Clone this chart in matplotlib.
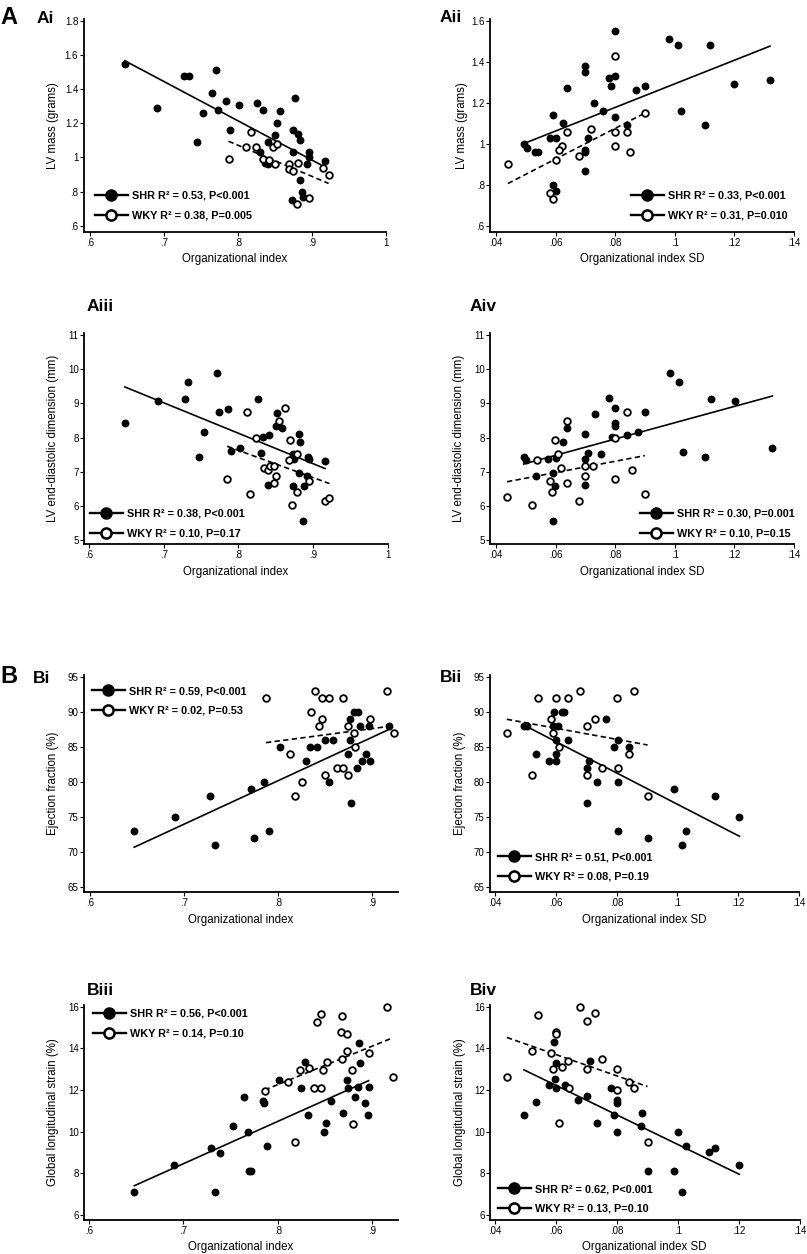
import numpy as np
import matplotlib
matplotlib.use("Agg")
import matplotlib.pyplot as plt
from matplotlib.lines import Line2D

plt.rcParams['font.family'] = ['Liberation Sans', 'DejaVu Sans']

# ---------------- data ----------------
ai_shr_x = [0.647, 0.691, 0.727, 0.733, 0.770, 0.765, 0.753, 0.745, 0.773, 0.784, 0.801, 0.789, 0.825, 0.833, 0.856, 0.876, 0.852, 0.849, 0.840, 0.829, 0.836, 0.840, 0.874, 0.881, 0.883, 0.874, 0.896, 0.895, 0.893, 0.917, 0.883, 0.886, 0.888, 0.872]
ai_shr_y = [1.55, 1.29, 1.48, 1.48, 1.51, 1.38, 1.26, 1.09, 1.28, 1.33, 1.31, 1.16, 1.32, 1.28, 1.27, 1.35, 1.20, 1.13, 1.09, 1.03, 0.97, 0.96, 1.16, 1.14, 1.10, 1.03, 1.03, 1.00, 0.96, 0.98, 0.87, 0.80, 0.77, 0.75]
ai_wky_x = [0.817, 0.787, 0.811, 0.824, 0.833, 0.841, 0.847, 0.853, 0.849, 0.868, 0.868, 0.874, 0.881, 0.880, 0.896, 0.914, 0.922]
ai_wky_y = [1.15, 0.99, 1.06, 1.06, 0.99, 0.985, 1.06, 1.08, 0.96, 0.96, 0.93, 0.92, 0.97, 0.73, 0.76, 0.94, 0.90]

aii_shr_x = [0.080, 0.098, 0.101, 0.112, 0.120, 0.132, 0.070, 0.070, 0.078, 0.080, 0.0786, 0.064, 0.073, 0.076, 0.080, 0.087, 0.090, 0.102, 0.110, 0.059, 0.0625, 0.058, 0.060, 0.0495, 0.0503, 0.053, 0.054, 0.071, 0.070, 0.070, 0.070, 0.084, 0.059, 0.060]
aii_shr_y = [1.55, 1.51, 1.48, 1.48, 1.29, 1.31, 1.38, 1.35, 1.32, 1.33, 1.28, 1.27, 1.20, 1.16, 1.13, 1.26, 1.28, 1.16, 1.09, 1.14, 1.10, 1.03, 1.03, 1.00, 0.98, 0.96, 0.96, 1.03, 0.97, 0.96, 0.87, 1.09, 0.80, 0.77]
aii_wky_x = [0.044, 0.080, 0.090, 0.072, 0.064, 0.080, 0.084, 0.062, 0.061, 0.060, 0.068, 0.080, 0.085, 0.058, 0.059]
aii_wky_y = [0.90, 1.43, 1.15, 1.07, 1.06, 1.06, 1.06, 0.99, 0.97, 0.92, 0.94, 0.99, 0.96, 0.76, 0.73]

aiii_shr_x = [0.648, 0.692, 0.733, 0.728, 0.771, 0.754, 0.747, 0.774, 0.786, 0.790, 0.802, 0.827, 0.830, 0.833, 0.841, 0.852, 0.850, 0.858, 0.840, 0.881, 0.882, 0.873, 0.874, 0.893, 0.894, 0.916, 0.881, 0.892, 0.873, 0.888, 0.887]
aiii_shr_y = [8.42, 9.07, 9.64, 9.13, 9.88, 8.15, 7.44, 8.74, 8.84, 7.61, 7.70, 9.14, 7.54, 8.03, 8.08, 8.71, 8.35, 8.27, 6.61, 8.11, 7.88, 7.52, 7.37, 7.44, 7.37, 7.32, 6.95, 6.88, 6.59, 6.59, 5.57]
aiii_wky_x = [0.811, 0.863, 0.854, 0.824, 0.869, 0.879, 0.868, 0.834, 0.840, 0.843, 0.848, 0.850, 0.848, 0.785, 0.816, 0.894, 0.879, 0.872, 0.916, 0.922]
aiii_wky_y = [8.74, 8.86, 8.50, 7.98, 7.93, 7.52, 7.34, 7.12, 7.05, 7.18, 7.18, 6.88, 6.68, 6.78, 6.35, 6.74, 6.42, 6.02, 6.13, 6.24]

aiv_shr_x = [0.0493, 0.050, 0.0576, 0.060, 0.0533, 0.0592, 0.0598, 0.0592, 0.0626, 0.0637, 0.0699, 0.0732, 0.0779, 0.080, 0.080, 0.080, 0.0788, 0.0841, 0.0877, 0.090, 0.0753, 0.0708, 0.070, 0.070, 0.0985, 0.1013, 0.1122, 0.1202, 0.1027, 0.110, 0.1328]
aiv_shr_y = [7.44, 7.34, 7.37, 7.39, 6.88, 6.95, 6.58, 5.57, 7.88, 8.27, 8.11, 8.69, 9.15, 8.86, 8.44, 8.35, 8.03, 8.08, 8.15, 8.74, 7.52, 7.54, 7.37, 6.61, 9.88, 9.64, 9.13, 9.06, 7.59, 7.44, 7.70]
aiv_wky_x = [0.0437, 0.052, 0.0538, 0.0598, 0.0609, 0.0637, 0.0618, 0.0581, 0.0589, 0.0639, 0.0679, 0.070, 0.0724, 0.070, 0.080, 0.084, 0.0855, 0.080, 0.090]
aiv_wky_y = [6.25, 6.02, 7.34, 7.93, 7.52, 8.50, 7.12, 6.74, 6.42, 6.68, 6.14, 7.18, 7.18, 6.88, 7.98, 8.74, 7.05, 6.78, 6.35]

bi_shr_x = [0.647, 0.690, 0.728, 0.733, 0.771, 0.785, 0.774, 0.790, 0.802, 0.830, 0.834, 0.841, 0.850, 0.858, 0.854, 0.876, 0.876, 0.881, 0.885, 0.887, 0.896, 0.874, 0.893, 0.889, 0.898, 0.884, 0.877, 0.918]
bi_shr_y = [73, 75, 78, 71, 79, 80, 72, 73, 85, 83, 85, 85, 86, 86, 80, 86, 89, 90, 90, 88, 88, 84, 84, 83, 83, 82, 77, 88]
bi_wky_x = [0.787, 0.839, 0.847, 0.854, 0.869, 0.916, 0.8345, 0.847, 0.843, 0.8125, 0.825, 0.818, 0.850, 0.863, 0.869, 0.874, 0.882, 0.881, 0.874, 0.898, 0.923]
bi_wky_y = [92, 93, 92, 92, 92, 93, 90, 89, 88, 84, 80, 78, 81, 82, 82, 81, 85, 87, 88, 89, 87]

bii_shr_x = [0.0496, 0.0504, 0.0535, 0.0578, 0.0595, 0.0592, 0.0606, 0.0602, 0.060, 0.0602, 0.0620, 0.0628, 0.0639, 0.0709, 0.0701, 0.0734, 0.0701, 0.0765, 0.079, 0.0803, 0.0803, 0.0803, 0.0902, 0.0842, 0.0988, 0.1016, 0.1028, 0.1123, 0.1204]
bii_shr_y = [88, 88, 84, 83, 90, 88, 88, 86, 84, 83, 90, 90, 86, 83, 82, 80, 77, 89, 85, 86, 80, 73, 72, 85, 79, 71, 73, 78, 75]
bii_wky_x = [0.0439, 0.0522, 0.0584, 0.0591, 0.0612, 0.0701, 0.0728, 0.0701, 0.0751, 0.0803, 0.0842, 0.0902, 0.054, 0.060, 0.064, 0.068, 0.080, 0.0858]
bii_wky_y = [87, 81, 89, 87, 85, 88, 89, 81, 82, 82, 84, 78, 92, 92, 92, 93, 92, 93]

biii_shr_x = [0.648, 0.690, 0.729, 0.739, 0.733, 0.752, 0.764, 0.768, 0.769, 0.772, 0.784, 0.785, 0.788, 0.801, 0.829, 0.825, 0.832, 0.849, 0.851, 0.856, 0.869, 0.873, 0.874, 0.882, 0.885, 0.887, 0.886, 0.892, 0.895, 0.896]
biii_shr_y = [7.12, 8.40, 9.2, 8.99, 7.12, 10.29, 11.68, 10.0, 8.11, 8.11, 11.49, 11.39, 9.31, 12.48, 13.36, 12.08, 10.8, 10.0, 10.4, 11.49, 10.88, 12.48, 12.08, 11.68, 12.16, 13.28, 14.27, 11.39, 10.8, 12.16]
biii_wky_x = [0.786, 0.811, 0.823, 0.833, 0.838, 0.846, 0.848, 0.852, 0.868, 0.873, 0.879, 0.896, 0.818, 0.880, 0.841, 0.846, 0.868, 0.867, 0.873, 0.916, 0.922]
biii_wky_y = [11.97, 12.38, 12.96, 13.07, 12.08, 12.08, 12.96, 13.36, 13.47, 13.87, 12.96, 13.76, 9.49, 10.38, 15.25, 15.65, 15.55, 14.77, 14.67, 16.0, 12.6]

biv_shr_x = [0.0495, 0.0534, 0.0577, 0.0595, 0.0601, 0.0598, 0.0601, 0.0628, 0.0672, 0.0701, 0.071, 0.0735, 0.078, 0.079, 0.0801, 0.0801, 0.0801, 0.0881, 0.0878, 0.090, 0.0987, 0.1001, 0.1014, 0.1026, 0.110, 0.1121, 0.1201]
biv_shr_y = [10.80, 11.41, 12.22, 14.29, 13.29, 12.51, 12.09, 12.22, 11.51, 11.70, 13.39, 10.40, 12.10, 10.80, 11.51, 11.38, 10.0, 10.90, 10.29, 8.12, 8.12, 10.0, 7.12, 9.29, 9.0, 9.21, 8.41]
biv_wky_x = [0.0439, 0.0521, 0.054, 0.0582, 0.060, 0.060, 0.0591, 0.0621, 0.0638, 0.0641, 0.061, 0.0701, 0.0727, 0.068, 0.0701, 0.0751, 0.0801, 0.0801, 0.0839, 0.0857, 0.090]
biv_wky_y = [12.60, 13.89, 15.59, 13.79, 14.79, 14.69, 12.99, 13.1, 13.39, 12.09, 10.40, 15.29, 15.69, 16.0, 12.99, 13.5, 12.99, 11.99, 12.39, 12.09, 9.5]

oi_ticks = [0.6, 0.7, 0.8, 0.9, 1.0]
oi_ticks_b = [0.6, 0.7, 0.8, 0.9]
sd_ticks = [0.04, 0.06, 0.08, 0.10, 0.12, 0.14]
mass_ai_ticks = [0.6, 0.8, 1.0, 1.2, 1.4, 1.6, 1.8]
mass_aii_ticks = [0.6, 0.8, 1.0, 1.2, 1.4, 1.6]
lved_ticks = [5, 6, 7, 8, 9, 10, 11]
ef_ticks = [65, 70, 75, 80, 85, 90, 95]
gls_ticks = [6, 8, 10, 12, 14, 16]

xlab_oi = "Organizational index"
xlab_sd = "Organizational index SD"
ylab_mass = "LV mass (grams)"
ylab_lved = "LV end-diastolic dimension (mm)"
ylab_ef = "Ejection fraction (%)"
ylab_gls = "Global longitudinal strain (%)"

leg_ai = ["SHR R\u00b2 = 0.53, P<0.001", "WKY R\u00b2 = 0.38, P=0.005"]
leg_aii = ["SHR R\u00b2 = 0.33, P<0.001", "WKY R\u00b2 = 0.31, P=0.010"]
leg_aiii = ["SHR R\u00b2 = 0.38, P<0.001", "WKY R\u00b2 = 0.10, P=0.17"]
leg_aiv = ["SHR R\u00b2 = 0.30, P=0.001", "WKY R\u00b2 = 0.10, P=0.15"]
leg_bi = ["SHR R\u00b2 = 0.59, P<0.001", "WKY R\u00b2 = 0.02, P=0.53"]
leg_bii = ["SHR R\u00b2 = 0.51, P<0.001", "WKY R\u00b2 = 0.08, P=0.19"]
leg_biii = ["SHR R\u00b2 = 0.56, P<0.001", "WKY R\u00b2 = 0.14, P=0.10"]
leg_biv = ["SHR R\u00b2 = 0.62, P<0.001", "WKY R\u00b2 = 0.13, P=0.10"]

# ---------------- layout ----------------
W, H = 807, 1254
fig = plt.figure(figsize=(W / 100, H / 100), dpi=100)


def val_at(px, p0, v0, p1, v1):
    return v0 + (px - p0) * (v1 - v0) / (p1 - p0)


def fmt(v):
    s = f"{v:g}"
    if s.startswith("0."):
        s = s[1:]
    return s


def panel(box, xt, yt, xticks, yticks, shr, wky, xlabel, ylabel, xlab_pos, ylab_pos,
          legend, leg_pos, tag, tag_pos):
    left, right, top, bottom = box
    ax = fig.add_axes([left / W, 1 - bottom / H, (right - left) / W, (bottom - top) / H])
    ax.set_xlim(val_at(left, xt[1], xt[0], xt[3], xt[2]), val_at(right, xt[1], xt[0], xt[3], xt[2]))
    ax.set_ylim(val_at(bottom, yt[1], yt[0], yt[3], yt[2]), val_at(top, yt[1], yt[0], yt[3], yt[2]))
    for s in ("top", "right"):
        ax.spines[s].set_visible(False)
    for s in ("left", "bottom"):
        ax.spines[s].set_linewidth(1.3)
    ax.set_xticks(xticks)
    ax.set_xticklabels([fmt(v) for v in xticks])
    ax.set_yticks(yticks)
    ax.set_yticklabels([fmt(v) for v in yticks])
    ax.tick_params(axis="both", direction="out", length=2.6, width=0.8, labelsize=7.0, color="black")
    ax.tick_params(axis="y", pad=1.2)
    ax.tick_params(axis="x", pad=2.0)
    ax.patch.set_visible(False)

    (sx, sy), (wx, wy) = shr, wky
    ax.scatter(sx, sy, s=32, c="black", linewidths=0, zorder=3, clip_on=False)
    ax.scatter(wx, wy, s=23, facecolors="white", edgecolors="black", linewidths=1.3, zorder=4, clip_on=False)
    for (gx, gy, ls) in ((sx, sy, "-"), (wx, wy, (0, (3.2, 2.0)))):
        gx = np.asarray(gx); gy = np.asarray(gy)
        k, b = np.polyfit(gx, gy, 1)
        xx = np.array([gx.min(), gx.max()])
        ax.plot(xx, k * xx + b, color="black", lw=1.2, linestyle=ls, zorder=2)

    fig.text(xlab_pos[0] / W, 1 - xlab_pos[1] / H, xlabel, ha="center", va="center", fontsize=8.3)
    fig.text(ylab_pos[0] / W, 1 - ylab_pos[1] / H, ylabel, ha="center", va="center", fontsize=8.3, rotation=90)

    handles = [Line2D([], [], color="black", lw=1.7, marker="o", ms=8.0, mfc="black", mec="black"),
               Line2D([], [], color="black", lw=1.7, marker="o", ms=7.3, mfc="white", mec="black", mew=1.8)]
    ax.legend(handles, legend, loc="upper left", bbox_to_anchor=(leg_pos[0] / W, 1 - leg_pos[1] / H),
              bbox_transform=fig.transFigure, frameon=False, borderpad=0, borderaxespad=0,
              handlelength=3.0, handletextpad=0.45, labelspacing=0.9,
              prop={"weight": "bold", "size": 7.8})
    fig.text(tag_pos[0] / W, 1 - tag_pos[1] / H, tag, ha="left", va="baseline", fontsize=12.5, fontweight="bold")
    return ax


panel((83.5, 386.4, 19, 231.7), (0.6, 90, 0.9, 312.3), (1.8, 21, 0.6, 225.7), oi_ticks, mass_ai_ticks,
      (ai_shr_x, ai_shr_y), (ai_wky_x, ai_wky_y), xlab_oi, ylab_mass, (235, 259), (53, 126),
      leg_ai, (95, 191), "Ai", (37, 23))
panel((490, 794, 19, 231.7), (0.04, 496, 0.12, 734.3), (1.6, 20.6, 0.6, 226), sd_ticks, mass_aii_ticks,
      (aii_shr_x, aii_shr_y), (aii_wky_x, aii_wky_y), xlab_sd, ylab_mass, (642, 259), (462, 126),
      leg_aii, (631, 191), "Aii", (440, 22))
panel((84, 388, 333, 544), (0.6, 89, 0.9, 313), (11, 335.2, 5, 540), oi_ticks, lved_ticks,
      (aiii_shr_x, aiii_shr_y), (aiii_wky_x, aiii_wky_y), xlab_oi, ylab_lved, (236, 572), (53, 438),
      leg_aiii, (90, 509), "Aiii", (87, 311))
panel((490, 794, 333, 544), (0.04, 496, 0.12, 734.3), (11, 335.2, 5, 540), sd_ticks, lved_ticks,
      (aiv_shr_x, aiv_shr_y), (aiv_wky_x, aiv_wky_y), xlab_sd, ylab_lved, (642, 572), (459, 438),
      leg_aiv, (640, 509), "Aiv", (470, 311))
panel((84, 398, 675, 891.7), (0.6, 90, 0.9, 372.3), (95, 677.4, 65, 886.7), oi_ticks_b, ef_ticks,
      (bi_shr_x, bi_shr_y), (bi_wky_x, bi_wky_y), xlab_oi, ylab_ef, (241, 920), (53, 783),
      leg_bi, (92, 686), "Bi", (33, 683))
panel((490, 799, 675, 891.7), (0.04, 495, 0.12, 738.3), (95, 677.4, 65, 886.7), sd_ticks, ef_ticks,
      (bii_shr_x, bii_shr_y), (bii_wky_x, bii_wky_y), xlab_sd, ylab_ef, (644, 920), (460, 783),
      leg_bii, (498, 852), "Bii", (440, 682))
panel((84, 398, 1004.5, 1220), (0.6, 89, 0.9, 372.3), (16, 1006.6, 6, 1215), oi_ticks_b, gls_ticks,
      (biii_shr_x, biii_shr_y), (biii_wky_x, biii_wky_y), xlab_oi, ylab_gls, (241, 1247), (53, 1112),
      leg_biii, (93, 1009), "Biii", (87, 995))
panel((490, 800, 1004.5, 1220), (0.04, 495, 0.12, 739), (16, 1006.6, 6, 1215), sd_ticks, gls_ticks,
      (biv_shr_x, biv_shr_y), (biv_wky_x, biv_wky_y), xlab_sd, ylab_gls, (644, 1247), (460, 1112),
      leg_biv, (498, 1184), "Biv", (470, 995))

fig.text(0 / W, 1 - 24 / H, "A", ha="left", va="baseline", fontsize=17, fontweight="bold")
fig.text(0 / W, 1 - 683 / H, "B", ha="left", va="baseline", fontsize=17, fontweight="bold")

fig.savefig("out.png", dpi=100, facecolor="white")
